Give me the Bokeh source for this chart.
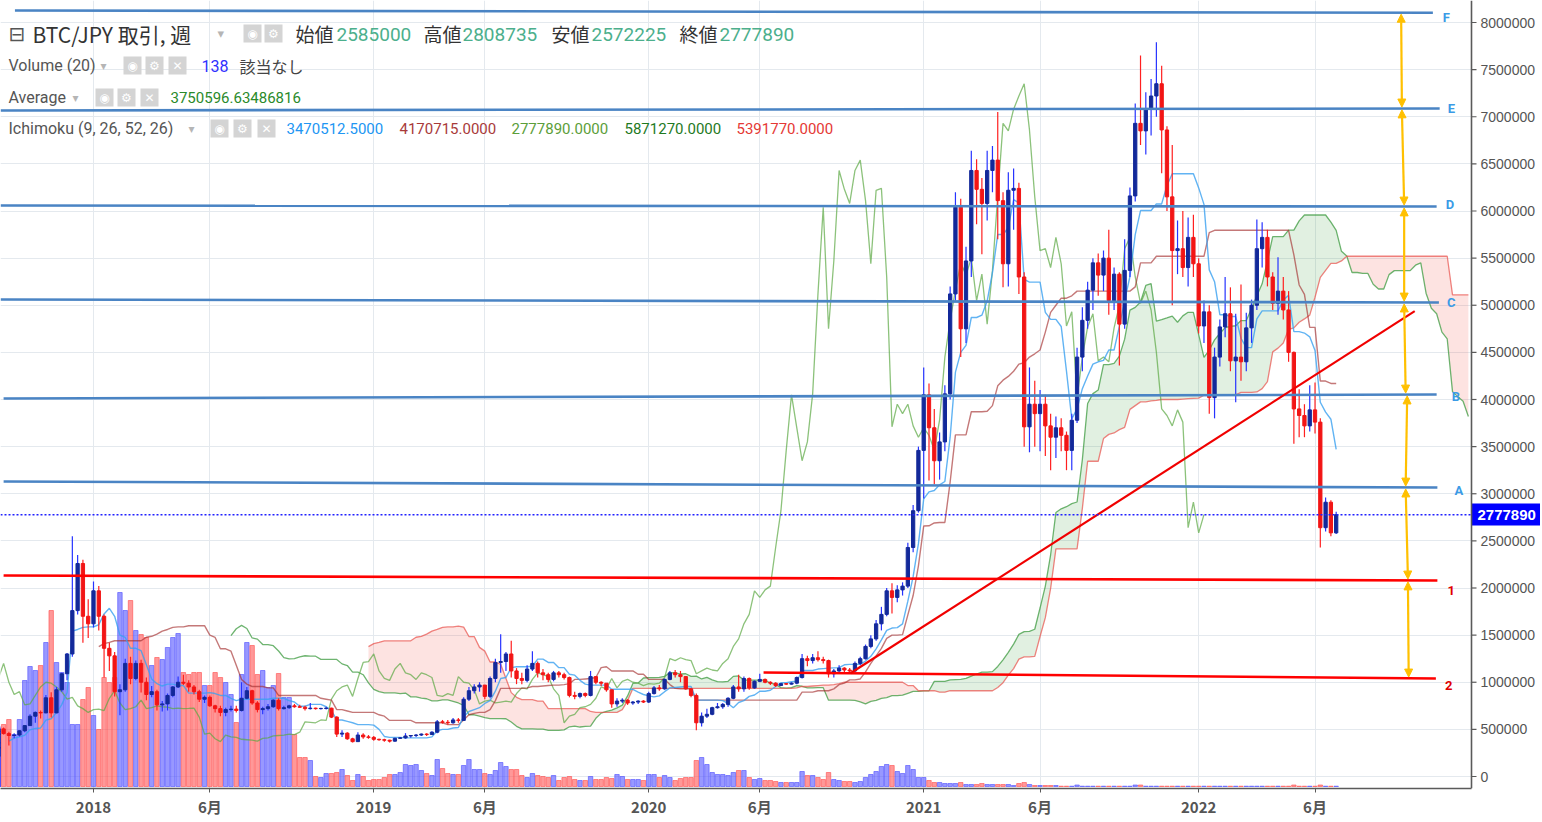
import numpy as np
import pandas as pd
from bokeh.plotting import figure
from bokeh.models import (Range1d, FixedTicker, SingleIntervalTicker, NumeralTickFormatter,
                          CustomJSTickFormatter, ColumnDataSource, Span, Arrow, NormalHead)
from bokeh.core.properties import value
from bokeh.embed import file_html
from bokeh.resources import INLINE

# ---------------- DATA (weekly BTC/JPY, values in 万円 = 10,000 JPY) ----------------
START = "2017-07-17"          # first weekly bar (Monday); bars continue every 7 days
first_open_man = 21.5

close_man = [
    30.5, 30.6, 35.8, 44.8, 45.0, 47.8, 50.5,
    45.5, 43.5, 44.0, 48.5, 54.0, 64.0, 68.0, 67.5, 83.5, 67.5,
    92, 109, 130, 176, 226, 170, 162, 197, 170, 136,
    128, 90, 92, 120, 104, 120, 100, 87, 90, 76,
    77, 86, 95, 100, 99, 95, 90, 82, 84, 75,
    72, 68, 71, 71.5, 70, 83, 91, 78, 71, 72,
    74, 81, 72, 73, 75, 74, 73.5, 72, 72.5, 72,
    72.2, 72.5, 63, 45, 46, 40, 37, 44, 42, 41.5,
    39.5, 39, 38.5, 37.5, 40.5, 41, 43, 43.5, 44, 45,
    44.5, 47, 58, 57.5, 57, 60, 59.5, 82, 91, 95,
    97, 85, 104, 121, 122, 130, 112, 104, 102, 114,
    120, 110, 108, 103, 110, 108, 105, 86, 85, 88,
    86, 106, 100, 99, 92, 77, 80, 81, 78, 79,
    80, 79, 88, 94, 93, 103, 110, 108, 106, 93,
    86, 57, 64, 66, 73, 74, 76.5, 83, 95, 93,
    104, 94, 101, 103, 100, 99, 96.5, 98.5, 98, 99,
    105, 125, 123, 126, 124, 123, 109, 112, 115, 113,
    112, 120, 125, 138, 146, 162, 172, 197, 190, 198,
    202, 243, 282, 346, 405, 370, 335, 355, 406, 512,
    604, 475, 547, 643, 623, 608, 643, 654, 611, 544,
    622, 624, 530, 371, 395, 385, 395, 372, 360, 370,
    362, 346, 378, 445, 484, 516, 545, 532, 550, 505,
    533, 480, 537, 616, 693, 685, 708, 722, 735, 686,
    615, 558, 560, 540, 572, 544, 478, 493, 402, 445,
    477, 491, 441, 445, 440, 476, 500, 560, 572, 530,
    502, 515, 495, 450, 390, 383, 372, 389, 376, 264,
    291, 258.5, 277.789,
]

high_man = [
    32.0, 31.5, 36.0, 45.5, 48.5, 48.8, 54.5,
    52, 47.5, 46, 49, 54.5, 66, 69, 70, 86.5, 89.5,
    95, 110, 131, 255, 235, 230, 188, 207, 202, 172,
    142, 132, 98, 125, 127, 123, 124, 105, 96, 92,
    80, 88, 96, 106, 108, 102, 97, 92, 86, 86,
    76, 75, 73, 75, 75, 100, 95, 92, 80, 74,
    77, 82, 83, 75, 76, 77, 76, 75, 78, 73,
    73, 74, 73, 64, 49, 47, 41, 47, 46, 44,
    43, 40, 40, 39, 41, 42, 46, 44, 45, 45.5,
    46, 48, 60, 60, 60, 62, 62, 84, 95, 98,
    100, 97, 106, 125, 151, 132, 144, 115, 110, 118,
    133, 122, 114, 110, 112, 112, 110, 106, 90, 89,
    89, 112, 106, 101, 98, 92, 83, 83, 82, 80,
    81, 81, 90, 96, 97, 104, 112, 113, 112, 106,
    94, 88, 68, 72, 74, 78, 78, 84, 97, 108,
    106, 105, 102, 109, 104, 101, 100, 99, 99, 100,
    106, 130, 128, 130, 133, 127, 124, 114, 118, 116,
    115, 122, 127, 140, 150, 166, 180, 200, 205, 203,
    206, 248, 288, 350, 434, 417, 390, 365, 415, 520,
    620, 613, 562, 664, 655, 635, 664, 669, 705, 620,
    641, 645, 630, 535, 434, 420, 410, 405, 385, 382,
    380, 366, 385, 455, 498, 525, 550, 555, 558, 580,
    540, 535, 570, 625, 714, 765, 726, 740, 779, 754,
    690, 670, 590, 600, 593, 596, 550, 505, 500, 455,
    485, 530, 519, 491, 522, 492, 506, 591, 588, 580,
    535, 551, 530, 515, 451, 411, 395, 415, 418, 380,
    296, 293, 280.8735,
]

low_man = [
    20.5, 27.0, 29.5, 35.0, 42.0, 43.5, 47.0,
    44.5, 33, 40.5, 42.5, 47, 53.5, 57, 61.5, 67, 62.5,
    67, 90, 102, 127, 172, 142, 147, 158, 155, 105,
    112, 85, 65, 90, 98, 102, 89, 81, 84, 70,
    69, 70, 84, 94, 97, 90, 87, 79, 78, 74,
    68, 64, 64, 69, 68, 69, 82, 76, 68, 66,
    70, 73, 70, 71, 72, 73, 73, 70, 71, 71,
    71, 71, 62, 42, 42, 39, 36, 37, 40, 40,
    38, 38, 37, 36, 37, 40, 40, 41, 42, 43,
    43, 44, 46, 56, 55, 56, 57, 59, 80, 88,
    90, 82, 83, 100, 110, 112, 105, 98, 98, 100,
    112, 105, 102, 100, 101, 105, 103, 84, 82, 83,
    84, 85, 98, 96, 90, 73, 74, 78, 76, 76,
    77, 78, 78, 87, 91, 92, 102, 105, 100, 92,
    84, 49, 53, 62, 65, 72, 72, 74, 82, 90,
    90, 92, 93, 100, 99, 97, 95, 96, 97, 97.5,
    98, 104, 117, 120, 122, 120, 105, 105, 110, 111,
    110, 111, 118, 124, 136, 144, 155, 170, 173, 185,
    192, 200, 238, 280, 295, 314, 310, 315, 345, 400,
    505, 445, 460, 530, 586, 554, 590, 620, 570, 519,
    520, 580, 512, 350, 344, 350, 345, 340, 325, 338,
    345, 325, 325, 375, 430, 475, 495, 510, 515, 490,
    495, 436, 475, 530, 610, 670, 660, 680, 700, 640,
    600, 500, 533, 530, 520, 530, 470, 460, 385, 380,
    435, 466, 430, 397, 420, 430, 460, 495, 540, 520,
    495, 490, 485, 440, 353, 360, 360, 366, 364, 243.1,
    260, 255, 257.2225,
]

volume = [
    48, 45, 52, 58, 55, 50, 60,
    62, 67, 52, 67, 106, 120, 116, 121, 144, 176,
    124, 114, 104, 62, 62, 87, 99, 71, 57, 109,
    104, 109, 194, 176, 186, 156, 152, 149, 121, 129,
    127, 139, 149, 153, 114, 112, 114, 114, 101, 101,
    114, 109, 104, 92, 64, 112, 144, 141, 112, 116,
    99, 101, 113, 89, 89, 52, 29, 29, 26, 10,
    9, 13, 13, 14, 17, 11, 6, 12, 10, 6,
    7, 7, 9, 12, 12, 14, 22, 21, 22, 16,
    13, 11, 27, 18, 13, 12, 12, 21, 27, 17,
    17, 13, 12, 16, 24, 20, 17, 17, 11, 9,
    13, 11, 10, 9, 11, 6, 9, 10, 7, 6,
    6, 10, 7, 7, 9, 8, 12, 10, 7, 7,
    7, 6, 12, 12, 9, 11, 9, 6, 8, 9,
    9, 26, 29, 22, 14, 12, 12, 11, 14, 16,
    16, 9, 7, 8, 6, 6, 5, 4, 4, 4,
    4, 15, 11, 11, 9, 7, 14, 7, 6, 5,
    5, 4, 5, 9, 12, 15, 20, 22, 21, 15,
    13, 21, 17, 9, 9, 6, 4, 4, 3, 3,
    3, 4, 2, 2, 2, 3, 2, 2, 2, 2,
    2, 1, 3, 4, 2, 1, 1, 1, 1, 1,
    0.3, 0.3, 0.3, 1.5, 0.3, 0.3, 0.3, 0.3, 0.3, 0.3,
    0.3, 0.3, 0.3, 0.3, 1.5, 1.5, 0.3, 0.3, 0.3, 0.3,
    0.3, 0.3, 0.3, 0.3, 0.3, 0.3, 0.3, 0.3, 0.3, 0.3,
    0.3, 0.3, 0.3, 0.3, 0.3, 0.3, 0.3, 0.3, 0.3, 0.3,
    0.3, 0.3, 0.3, 0.3, 1.5, 0.3, 0.3, 0.3, 0.3, 1.5,
    0.3, 0.3, 0.3,
]

tick_dates = ["2018-01-01", "2018-06-04", "2019-01-07", "2019-06-03", "2020-01-06",
              "2020-06-01", "2021-01-04", "2021-06-07", "2022-01-03", "2022-06-06"]
tick_labels = ["2018", "6月", "2019", "6月", "2020", "6月", "2021", "6月", "2022", "6月"]

# hand-drawn levels (name, start date, start price, end date, end price)
level_names = ["F", "E", "D", "C", "B", "A", "1", "2"]
level_start_date = ["2017-09-19", "2017-08-31", "2017-08-31", "2017-08-31",
                    "2017-09-04", "2017-09-04", "2017-09-04", "2020-06-06"]
level_start_price = [8127000, 7066000, 6058000, 5061000, 4011000, 3130000, 2133000, 1103000]
level_end_date = ["2022-11-09", "2022-11-18", "2022-11-14", "2022-11-17",
                  "2022-11-14", "2022-11-15", "2022-11-15", "2022-11-13"]
level_end_price = [8103000, 7088000, 6048000, 5029000, 4053000, 3066000, 2080000, 1040000]
level_is_red = [False, False, False, False, False, False, True, True]

trend_dates = ["2020-09-29", "2022-10-16"]
trend_prices = [1096000, 4937000]

arrow_x0 = ["2022-09-28", "2022-09-29", "2022-10-02", "2022-10-02", "2022-10-06", "2022-10-04", "2022-10-07"]
arrow_x1 = ["2022-09-29", "2022-10-02", "2022-10-02", "2022-10-04", "2022-10-04", "2022-10-07", "2022-10-08"]

last_price = 2777890
header_ohlc = ["2585000", "2808735", "2572225", "2777890"]
ichimoku_vals = ["3470512.5000", "4170715.0000", "2777890.0000", "5871270.0000", "5391770.0000"]

# ---------------- PREP ----------------
MAN = 10000.0
close = np.array(close_man) * MAN
high = np.array(high_man) * MAN
low = np.array(low_man) * MAN
open_ = np.concatenate([[first_open_man * MAN], close[:-1]])
vol = np.array(volume, dtype=float)
N = len(close)
SHIFT = 25
dates = pd.date_range(START, periods=N + SHIFT, freq="7D")
ms_all = (dates.asi8 // 10**6).astype(float)
xs = ms_all[:N]
WEEK = 7 * 86400000.0

def to_ms(d):
    return pd.Timestamp(d).value / 1e6

# pixel <-> data helpers for layout (weekly spacing 5.288px, Jan 2018 bar at px 93)
T0 = to_ms("2017-09-04")
def X(px):
    return T0 + (px - 3.1) / 5.288 * WEEK
def Y(py):
    return (776.0 - py) / 94.25 * 1e6

AXIS_PX = 1471   # price-axis line position
FRAME_W = 1540

# Ichimoku (9, 26, 52, 26)
Hs, Ls = pd.Series(high), pd.Series(low)
tenkan = ((Hs.rolling(9).max() + Ls.rolling(9).min()) / 2).values
kijun = ((Hs.rolling(26).max() + Ls.rolling(26).min()) / 2).values
spanA_raw = (tenkan + kijun) / 2
spanB_raw = ((Hs.rolling(52).max() + Ls.rolling(52).min()) / 2).values
spanA = np.full(N + SHIFT, np.nan); spanA[SHIFT:] = spanA_raw
spanB = np.full(N + SHIFT, np.nan); spanB[SHIFT:] = spanB_raw

# ---------------- FIGURE ----------------
p = figure(frame_width=FRAME_W, frame_height=788, output_backend="svg", toolbar_location=None,
           x_range=Range1d(X(0), X(FRAME_W)), y_range=Range1d(Y(788), Y(0)),
           y_axis_location="right", min_border_left=0, min_border_top=0,
           min_border_right=0, min_border_bottom=0)
p.extra_y_ranges = {"vol": Range1d(-2, 786)}
p.outline_line_color = None
p.background_fill_color = "white"
p.border_fill_color = "white"

# price axis: labels drawn left of the frame edge, next to the axis line at AXIS_PX
p.yaxis.ticker = SingleIntervalTicker(interval=500000, num_minor_ticks=0)
p.yaxis.formatter = NumeralTickFormatter(format="0")
p.yaxis.major_label_text_font = "Liberation Sans"
p.yaxis.major_label_text_font_size = "14px"
p.yaxis.major_label_text_color = "#555555"
p.yaxis.axis_line_color = None
p.yaxis.major_tick_line_color = None
p.yaxis.major_tick_out = 0
p.yaxis.major_tick_in = 0
p.yaxis.minor_tick_out = 0
p.yaxis.minor_tick_in = 0
p.yaxis.major_label_standoff = 1480 - FRAME_W

tick_ms = [to_ms(d) for d in tick_dates]
p.xaxis.ticker = FixedTicker(ticks=tick_ms)
p.xaxis.formatter = CustomJSTickFormatter(args=dict(tk=tick_ms, lb=tick_labels),
    code="const i = tk.indexOf(tick); return i >= 0 ? lb[i] : '';")
p.xaxis.bounds = (X(0), X(AXIS_PX))
p.xaxis.major_label_text_font = "Noto Sans CJK JP"
p.xaxis.major_label_text_font_style = "bold"
p.xaxis.major_label_text_font_size = "15px"
p.xaxis.major_label_text_color = "#555555"
p.xaxis.axis_line_color = "#5a5a5a"
p.xaxis.axis_line_width = 1.5
p.xaxis.major_tick_line_color = "#5a5a5a"
p.xaxis.major_tick_out = 4
p.xaxis.major_tick_in = 0
p.xaxis.minor_tick_out = 0
p.xaxis.major_label_standoff = 3

p.xgrid.grid_line_color = "#e4e9ee"
p.ygrid.grid_line_color = "#e4e9ee"

# white axis strip (hides grid right of the axis line)
p.quad(left=X(AXIS_PX), right=X(FRAME_W + 5), bottom=Y(800), top=Y(-10),
       fill_color="white", line_color=None)

# ---------------- ICHIMOKU CLOUD ----------------
valid = ~np.isnan(spanA) & ~np.isnan(spanB)
cx, ca, cb = ms_all[valid], spanA[valid], spanB[valid]
ctop = np.maximum(ca, cb)
p.varea(x=cx, y1=cb, y2=ctop, fill_color="#43a047", fill_alpha=0.16)
p.varea(x=cx, y1=ca, y2=ctop, fill_color="#f44336", fill_alpha=0.15)

# ---------------- VOLUME ----------------
up = close >= open_
vcol = np.where(up, "#4d4dff", "#ff4d4d")
vsrc = ColumnDataSource(dict(x=xs, top=vol, c=vcol))
p.vbar(x="x", top="top", bottom=0, width=WEEK * 0.84, source=vsrc, y_range_name="vol",
       fill_color="c", fill_alpha=0.58, line_color="c", line_alpha=0.75, line_width=0.8)

# ---------------- ICHIMOKU LINES ----------------
p.line(ms_all, spanA, line_color="#3d9b40", line_alpha=0.75, line_width=1.3)
p.line(ms_all, spanB, line_color="#e8504a", line_alpha=0.7, line_width=1.3)
p.line(xs[:N - SHIFT], close[SHIFT:], line_color="#5ba843", line_alpha=0.7, line_width=1.3)
p.line(xs, kijun, line_color="#a53030", line_alpha=0.65, line_width=1.4)
p.line(xs, tenkan, line_color="#3aa0f0", line_alpha=0.8, line_width=1.4)

# ---------------- CANDLES ----------------
body_col = np.where(up, "#13299a", "#f21515")
wick_col = np.where(up, "#2633ff", "#ff2020")
csrc = ColumnDataSource(dict(x=xs, top=np.maximum(open_, close), bottom=np.minimum(open_, close),
                             high=high, low=low, b=body_col, w=wick_col))
p.segment(x0="x", y0="high", x1="x", y1="low", line_color="w", line_width=1.2, source=csrc)
p.vbar(x="x", top="top", bottom="bottom", width=WEEK * 0.62, fill_color="b", line_color="b",
       line_width=1, source=csrc)

# ---------------- DRAWINGS ----------------
for i, name in enumerate(level_names):
    col = "#ff0000" if level_is_red[i] else "#4a84c4"
    p.line([to_ms(level_start_date[i]), to_ms(level_end_date[i])],
           [level_start_price[i], level_end_price[i]], line_color=col, line_width=2.6)

lab_dx = [10, 8, 9, 8, 15, 17, 10, 9]
lab_dy = [-5, 0, 2, 0, -2, -3, -10, -7]
lab_col = ["#3b9be6"] * 6 + ["#e00000"] * 2
p.text(x=[to_ms(d) for d in level_end_date], y=level_end_price, text=level_names,
       x_offset=lab_dx, y_offset=[-v for v in lab_dy], text_color=lab_col,
       text_font=value("Roboto"), text_font_size="13px", text_font_style="bold",
       text_baseline="middle", text_align="left")

p.line([to_ms(d) for d in trend_dates], trend_prices, line_color="#f00000", line_width=2.2)

for i in range(len(arrow_x0)):
    y0 = level_end_price[i]
    y1 = level_end_price[i + 1]
    p.add_layout(Arrow(x_start=to_ms(arrow_x0[i]), y_start=y0 - 15000,
                       x_end=to_ms(arrow_x1[i]), y_end=y1 + 15000,
                       start=NormalHead(size=8, fill_color="#ffc000", line_color="#ffc000"),
                       end=NormalHead(size=8, fill_color="#ffc000", line_color="#ffc000"),
                       line_color="#ffc000", line_width=2.2))

# current price: dotted line + blue price tag on the axis
p.line([X(0), X(AXIS_PX)], [last_price, last_price], line_color="#2020ff",
       line_dash="2 2", line_width=1.6)
p.quad(left=X(AXIS_PX), right=X(FRAME_W + 5), bottom=Y(525), top=Y(503),
       fill_color="#0000ff", line_color=None)
p.text(x=[X(AXIS_PX + 6)], y=[last_price], text=[str(last_price)], text_color="white",
       text_font=value("Liberation Sans"), text_font_size="15px", text_font_style="bold",
       text_baseline="middle", text_align="left")

# axis line and tick marks of the price axis
price_ticks = np.arange(0, 8000001, 500000)
p.segment(x0=[X(AXIS_PX)] * len(price_ticks), x1=[X(AXIS_PX + 5)] * len(price_ticks),
          y0=price_ticks, y1=price_ticks, line_color="#5a5a5a", line_width=1.2)
p.add_layout(Span(location=X(AXIS_PX), dimension="height", line_color="#5a5a5a", line_width=1.6))

# ---------------- HEADER (legend texts) ----------------
def txt(px, py, s, color, size, font="Roboto", style="normal"):
    p.text(x=[X(px)], y=[Y(py)], text=[s], text_color=color, text_font_size=f"{size}px",
           text_font=value(font), text_font_style=style, text_baseline="middle", text_align="left")

def box(cx_, cy_, sym):
    p.rect(x=[X(cx_)], y=[Y(cy_)], width=18, height=18, width_units="screen", height_units="screen",
           fill_color="#d4d4d4", line_color=None)
    p.text(x=[X(cx_)], y=[Y(cy_)], text=[sym], text_color="white", text_font_size="12px",
           text_font=value("DejaVu Sans"), text_baseline="middle", text_align="center")

CJK = "Noto Sans CJK JP"
# line 1
txt(8, 33, "⊟", "#555555", 20, "DejaVu Sans")
txt(32, 33, "BTC/JPY 取引, 週", "#333333", 21, CJK)
txt(217, 33, "▾", "#b5b5b5", 13, "DejaVu Sans")
box(252, 33, "◉"); box(273, 33, "⚙")
for lx, lab, vx, v in zip([295, 423, 551, 679], ["始値", "高値", "安値", "終値"],
                          [336, 462, 591, 719], header_ohlc):
    txt(lx, 33, lab, "#333333", 19, CJK)
    txt(vx, 34, v, "#4caf8c", 19, "Roboto")
# line 2
txt(8, 65, "Volume (20)", "#555555", 16)
txt(100, 65, "▾", "#b5b5b5", 12, "DejaVu Sans")
box(132, 65, "◉"); box(154, 65, "⚙"); box(177, 65, "✕")
txt(201, 65, "138", "#3030ff", 16)
txt(239, 65, "該当なし", "#444444", 16, CJK)
# line 3
txt(8, 97, "Average", "#555555", 16)
txt(72, 97, "▾", "#b5b5b5", 12, "DejaVu Sans")
box(104, 97, "◉"); box(126, 97, "⚙"); box(149, 97, "✕")
txt(170, 97, "3750596.63486816", "#2a8a2a", 15)
# line 4
txt(8, 128, "Ichimoku (9, 26, 52, 26)", "#555555", 16)
txt(188, 128, "▾", "#b5b5b5", 12, "DejaVu Sans")
box(219, 128, "◉"); box(242, 128, "⚙"); box(266, 128, "✕")
for vx, v, c in zip([286, 399, 511, 624, 736], ichimoku_vals,
                    ["#2196f3", "#a83a3a", "#5c9e3a", "#1f7a1f", "#e53935"]):
    txt(vx, 128, v, c, 15)

open("out.html", "w").write(file_html(p, INLINE))
